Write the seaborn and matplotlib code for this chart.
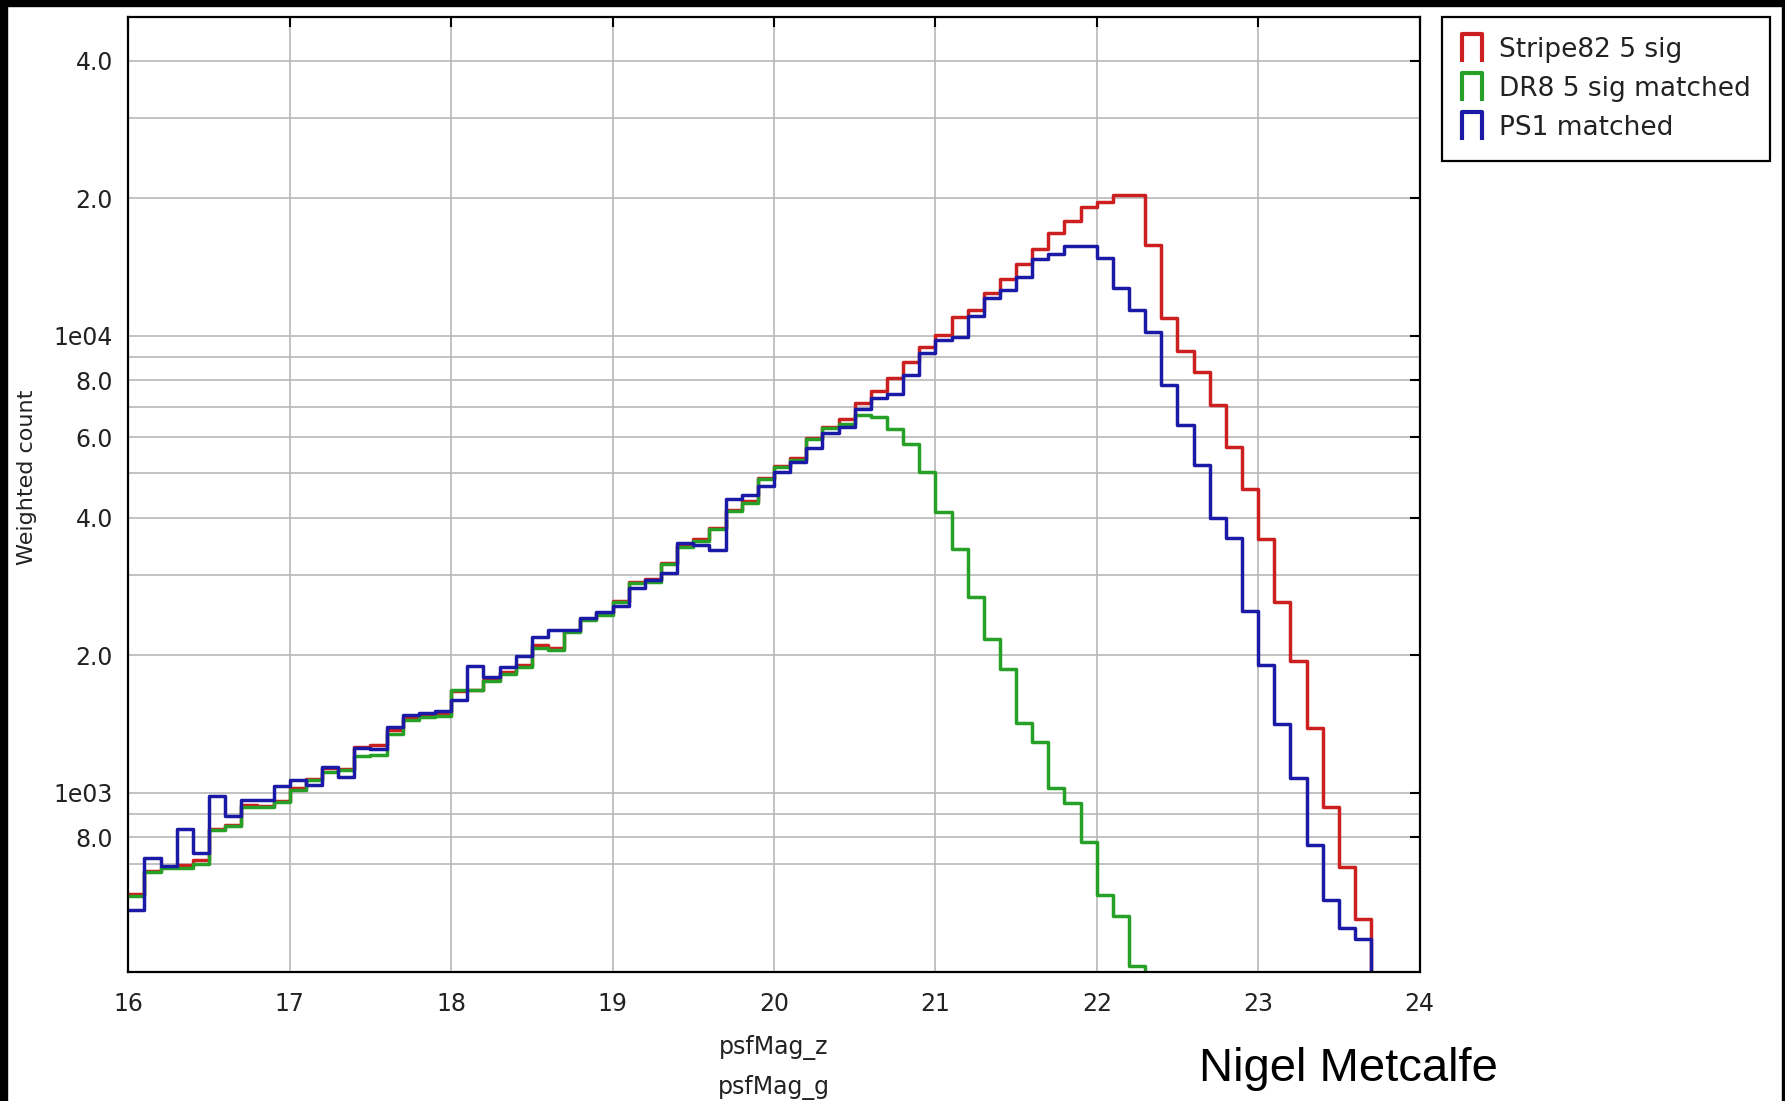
import numpy as np
import pandas as pd
import matplotlib
matplotlib.use("Agg")
import matplotlib.pyplot as plt
import seaborn as sns
from matplotlib.lines import Line2D
from matplotlib.path import Path
from matplotlib.patches import Rectangle
from matplotlib.ticker import NullFormatter

# ---------------- data (weighted counts per 0.1 mag bin, 16.0 -> 24.0) ----------------
bin_lo = 16.0
bin_hi = 24.0
n_bins = 80

stripe82 = [600, 675, 690, 695, 712, 832, 850, 940, 935, 960,
            1025, 1070, 1131, 1125, 1262, 1272, 1370, 1469, 1480, 1490,
            1671, 1683, 1770, 1835, 1900, 2104, 2075, 2260, 2400, 2470,
            2630, 2900, 2930, 3180, 3480, 3600, 3790, 4160, 4340, 4880,
            5180, 5400, 5990, 6330, 6560, 7134, 7578, 8070, 8777, 9432,
            10035, 11006, 11381, 12417, 13289, 14350, 15520, 16750, 17850, 19100,
            19600, 20300, 20300, 15830, 10950, 9250, 8338, 7041, 5717, 4622,
            3585, 2614, 1947, 1389, 929, 689, 530, 0, 0, 0]

dr8 = [594, 671, 685, 685, 700, 828, 846, 933, 930, 955,
       1017, 1066, 1111, 1121, 1203, 1208, 1343, 1442, 1462, 1472,
       1677, 1677, 1758, 1821, 1888, 2070, 2050, 2250, 2389, 2449,
       2618, 2881, 2900, 3166, 3452, 3559, 3776, 4135, 4312, 4858,
       5152, 5350, 5933, 6271, 6400, 6707, 6629, 6240, 5795, 5040,
       4122, 3410, 2677, 2173, 1863, 1419, 1293, 1025, 948, 782,
       597, 538, 419, 0, 0, 0, 0, 0, 0, 0,
       0, 0, 0, 0, 0, 0, 0, 0, 0, 0]

ps1 = [554, 721, 691, 832, 737, 984, 889, 964, 964, 1034,
       1069, 1039, 1137, 1081, 1251, 1246, 1394, 1479, 1496, 1512,
       1595, 1897, 1795, 1888, 1993, 2194, 2270, 2270, 2408, 2489,
       2560, 2801, 2920, 3020, 3513, 3483, 3396, 4387, 4481, 4690,
       5040, 5300, 5670, 6114, 6320, 6906, 7295, 7456, 8203, 9180,
       9786, 9950, 11041, 12076, 12590, 13460, 14700, 15100, 15740, 15740,
       14775, 12696, 11380, 10185, 7816, 6383, 5226, 3996, 3613, 2504,
       1906, 1418, 1080, 770, 582, 505, 480, 0, 0, 0]

series_names = ["Stripe82 5 sig", "DR8 5 sig matched", "PS1 matched"]
series_colors = ["#cc1f1f", "#27a027", "#1a1aa6"]

x_ticks = [16, 17, 18, 19, 20, 21, 22, 23, 24]
y_major = [800, 1000, 2000, 4000, 6000, 8000, 10000, 20000, 40000]
y_major_labels = ["8.0", "1e03", "2.0", "4.0", "6.0", "8.0", "1e04", "2.0", "4.0"]
y_minor = [700, 900, 3000, 5000, 7000, 9000, 30000]

x_label = "psfMag_z\npsfMag_g"
y_label = "Weighted count"
credit = "Nigel Metcalfe"

# ---------------- figure ----------------
sns.set_theme(style="white")
plt.rcParams['font.family'] = ['DejaVu Sans']

W, H = 1785, 1101
fig = plt.figure(figsize=(W / 100, H / 100), dpi=100, facecolor="white")
ax = fig.add_axes([128.3 / W, 1 - 972.3 / H, (1419.6 - 128.3) / W, (972.3 - 16.7) / H])
ax.set_facecolor("white")

bin_width = (bin_hi - bin_lo) / n_bins
centers = bin_lo + bin_width * (np.arange(n_bins) + 0.5)

for name, vals, col in zip(series_names, [stripe82, dr8, ps1], series_colors):
    df = pd.DataFrame({"mag": centers, "count": vals})
    sns.histplot(data=df, x="mag", weights="count", bins=n_bins,
                 binrange=(bin_lo, bin_hi), element="step",
                 fill=False, color=col, linewidth=2.5, ax=ax)

ax.set_yscale("log", nonpositive="clip")
ax.set_xlim(bin_lo, bin_hi)
ax.set_ylim(405, 49900)

ax.set_xticks(x_ticks)
ax.set_xticklabels([str(t) for t in x_ticks])
ax.set_yticks(y_major, labels=y_major_labels)
ax.set_yticks(y_minor, minor=True)
ax.yaxis.set_minor_formatter(NullFormatter())
ax.xaxis.set_minor_locator(matplotlib.ticker.NullLocator())

ax.tick_params(axis="both", which="major", direction="in", length=7, width=1.5,
               top=True, right=True, labelsize=17, labelcolor="#222222", color="black")
ax.tick_params(axis="x", which="major", pad=14)
ax.tick_params(axis="y", which="major", pad=11)
ax.tick_params(axis="both", which="minor", length=0)

ax.set_axisbelow(True)
ax.yaxis.grid(True, which="both", color="#b8b8b8", linewidth=1.2)
ax.xaxis.grid(True, which="major", color="#b8b8b8", linewidth=1.2)

for sp in ax.spines.values():
    sp.set_color("black")
    sp.set_linewidth(1.6)

ax.set_xlabel(x_label, fontsize=17, color="#222222", linespacing=1.75)
ax.xaxis.set_label_coords(0.5, -0.066)
ax.set_ylabel(y_label, fontsize=16, color="#222222")
ax.yaxis.set_label_coords(-0.071, 0.518)

# legend with open-box markers
bracket = Path([(-0.45, -0.6), (-0.45, 0.6), (0.45, 0.6), (0.45, -0.6)],
               [Path.MOVETO, Path.LINETO, Path.LINETO, Path.LINETO])
handles = [Line2D([], [], linestyle="none", marker=bracket, markersize=20,
                  markerfacecolor="none", markeredgecolor=c, markeredgewidth=3)
           for c in series_colors]
leg = ax.legend(handles, series_names, loc="upper left",
                bbox_to_anchor=(1442 / W, 1 - 17 / H), bbox_transform=fig.transFigure,
                frameon=True, fancybox=False, framealpha=1, edgecolor="black",
                borderaxespad=0, borderpad=0.75, handlelength=0.8, handletextpad=0.6,
                labelspacing=0.5, fontsize=19)
leg.get_frame().set_linewidth(1.6)
for t in leg.get_texts():
    t.set_color("#222222")

fig.text(1199 / W, 1 - 1081 / H, credit, fontsize=34, family="Liberation Sans",
         color="black", va="baseline", ha="left")

# dark border of the original slide
fig.add_artist(Rectangle((0, 0), 7 / W, 1, transform=fig.transFigure,
                         color="black", zorder=20))
fig.add_artist(Rectangle((0, 1 - 6 / H), 1, 6 / H, transform=fig.transFigure,
                         color="black", zorder=20))
fig.add_artist(Rectangle((1 - 3 / W, 0), 3 / W, 1, transform=fig.transFigure,
                         color="black", zorder=20))

fig.savefig("out.png", dpi=100, facecolor="white")
